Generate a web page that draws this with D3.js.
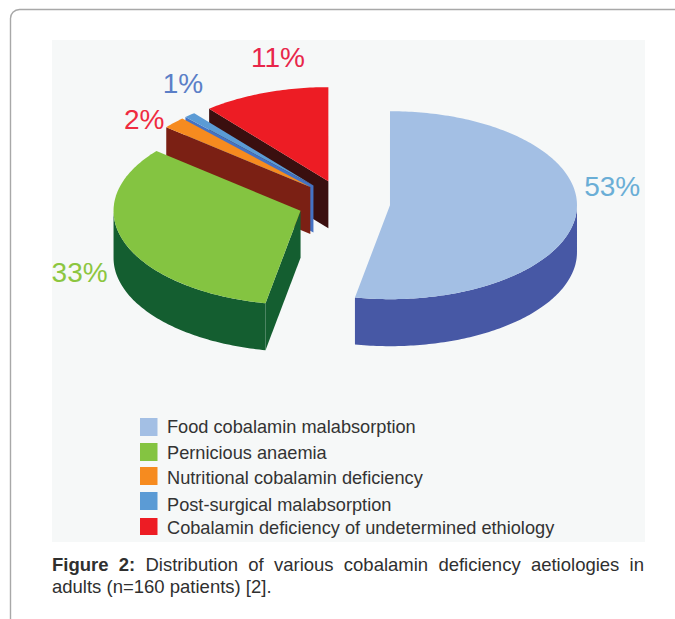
<!DOCTYPE html>
<html>
<head>
<meta charset="utf-8">
<script src="https://d3js.org/d3.v7.min.js"></script>
<style>
  html, body { margin: 0; padding: 0; background: #fff; }
  text { font-family: "Liberation Sans", Arial, sans-serif; }
</style>
</head>
<body>
<div id="chart-container"></div>
<script>
// Chart data
const categories = [
  "Food cobalamin malabsorption",
  "Pernicious anaemia",
  "Nutritional cobalamin deficiency",
  "Post-surgical malabsorption",
  "Cobalamin deficiency of undetermined ethiology"
];
const percents = [53, 33, 2, 1, 11];
const captionBold = "Figure 2:";
const captionLine1 = "Distribution of various cobalamin deficiency aetiologies in";
const captionLine2 = "adults (n=160 patients) [2].";

// Colours per slice
const topColors = ["#a3bfe4", "#84c441", "#f68b1f", "#5b9bd5", "#ed1c24"];
const wallColors = ["#4758a5", "#145e30", "#7b2014", "#4472c4", "#3a0f0f"];
const labelColors = ["#6aaed6", "#8cc63f", "#ef2b40", "#5b7fc7", "#e8264a"];

const width = 675;
const height = 619;

// Pie projection constants
const cx = 344;
const cy = 203;
const rx = 187;
const ry = 94;
const depth = 47;
const explode = 0.247;

// Nudges of the percent labels from the rim of their slice
const labelNudge = [[8, -18], [-73, 39], [-50, 6], [-27, -22], [-14, -26]];

// Legend rows are not evenly spaced in the original
const legendSwatchTop = [418, 443, 467, 492, 518];
const legendSwatchHeight = [18, 18, 18, 18, 17];
const legendBaseline = [433, 459, 484, 511, 534];

const svg = d3
  .select("#chart-container")
  .append("svg")
  .attr("width", width)
  .attr("height", height)
  .style("display", "block");

// Page frame and grey panel
svg.append("path")
  .attr("d", "M10.5,619V19a9,9 0 0 1 9,-9.5H675")
  .style("fill", "none")
  .style("stroke", "#a8a8a8")
  .style("stroke-width", 1.4);

svg.append("rect")
  .attr("x", 52)
  .attr("y", 40)
  .attr("width", 593)
  .attr("height", 502)
  .style("fill", "#f6f8f8");

const slices = d3.pie().sort(null).value((d) => d)(percents);

// Screen position of angle a (clockwise from the top) on the slice's ellipse
function centre(s) {
  const mid = (s.startAngle + s.endAngle) / 2;
  return [cx + explode * rx * Math.sin(mid), cy - explode * ry * Math.cos(mid)];
}
function rim(s, a, dy = 0) {
  const c = centre(s);
  return [c[0] + rx * Math.sin(a), c[1] - ry * Math.cos(a) + dy];
}
function arcPoints(s, from, to, dy = 0) {
  const n = Math.max(2, Math.ceil(Math.abs(to - from) * 60));
  return d3.range(n + 1).map((i) => rim(s, from + ((to - from) * i) / n, dy));
}

const line = d3.line();
const pieGroup = svg.append("g");

// Back slices first: red, small blue, orange, green, big blue
[4, 3, 2, 1, 0].forEach((i) => {
  const s = slices[i];
  const c = centre(s);
  const g = pieGroup.append("g");

  // Cut face on the start edge, only when it looks at the viewer
  if (s.startAngle > Math.PI) {
    const p = rim(s, s.startAngle);
    g.append("path")
      .attr("d", line([c, p, [p[0], p[1] + depth], [c[0], c[1] + depth]]) + "Z")
      .style("fill", wallColors[i]);
  }

  // Outer wall for the part of the rim on the near side
  const from = Math.max(s.startAngle, Math.PI / 2);
  const to = Math.min(s.endAngle, (3 * Math.PI) / 2);
  if (to > from) {
    const upper = arcPoints(s, from, to);
    const lower = arcPoints(s, to, from, depth);
    g.append("path")
      .attr("d", line(upper.concat(lower)) + "Z")
      .style("fill", wallColors[i]);
  }

  // Top face
  g.append("path")
    .attr("d", line([c].concat(arcPoints(s, s.startAngle, s.endAngle))) + "Z")
    .style("fill", topColors[i]);
});

// Percent labels
slices.forEach((s, i) => {
  const p = rim(s, (s.startAngle + s.endAngle) / 2);
  svg.append("text")
    .attr("x", p[0] + labelNudge[i][0])
    .attr("y", p[1] + labelNudge[i][1])
    .style("font-size", "28px")
    .style("fill", labelColors[i])
    .text(percents[i] + "%");
});

// Legend
const legend = svg.append("g");
categories.forEach((name, i) => {
  legend.append("rect")
    .attr("x", 140)
    .attr("y", legendSwatchTop[i])
    .attr("width", 17.5)
    .attr("height", legendSwatchHeight[i])
    .style("fill", topColors[i]);
  legend.append("text")
    .attr("x", 167)
    .attr("y", legendBaseline[i])
    .style("font-size", "18.2px")
    .style("fill", "#333")
    .text(name);
});

// Caption, first line justified to the panel width
const caption = svg.append("g").style("font-size", "18.5px").style("fill", "#2f2f2f");
const first = caption.append("text").attr("x", 52).attr("y", 571);
first.append("tspan").style("font-weight", "bold").text(captionBold + " ");
first.append("tspan").text(captionLine1);
const gaps = (captionBold + " " + captionLine1).split(" ").length - 1;
first.style("word-spacing", (592 - first.node().getComputedTextLength()) / gaps + "px");

caption.append("text")
  .attr("x", 52)
  .attr("y", 593)
  .text(captionLine2);
</script>
</body>
</html>
